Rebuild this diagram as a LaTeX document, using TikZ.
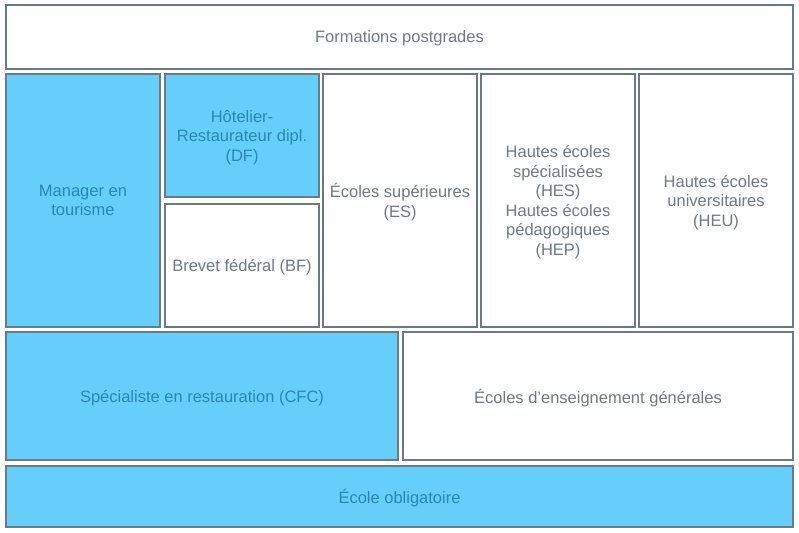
\documentclass[tikz,border=0pt]{standalone}
\usepackage{fontspec}
\setmainfont{Liberation Sans}
\definecolor{boxline}{RGB}{108,122,130}
\definecolor{boxtext}{RGB}{112,122,130}
\definecolor{skyfill}{RGB}{102,206,250}
\definecolor{skytext}{RGB}{42,136,176}

\begin{document}
\begin{tikzpicture}[x=1pt,y=-1pt,
  level/.style={draw=boxline,line width=1.4pt,fill=white,text=boxtext,
    align=center,inner sep=0pt,outer sep=0pt,text depth=0pt,
    font=\fontsize{16.5}{19.5}\selectfont},
  sky/.style={level,fill=skyfill,text=skytext}]
\useasboundingbox[fill=white] (0,0) rectangle (799,532);

\node[level,minimum width=787pt,minimum height=64pt] (post) at (399.5,37) {Formations postgrades};

\node[sky,minimum width=154pt,minimum height=253pt] (mgr) at (83,200.5) {Manager en\\tourisme};
\node[sky,minimum width=154pt,minimum height=123pt] (df) at (242,135.5) {Hôtelier-\\Restaurateur dipl.\\(DF)};
\node[level,minimum width=154pt,minimum height=123pt] (bf) at (242,265.5) {Brevet fédéral (BF)};
\node[level,minimum width=154pt,minimum height=253pt] (es) at (400,200.5) {Écoles supérieures\\(ES)};
\node[level,minimum width=154pt,minimum height=253pt] (hes) at (558,200.5)
{Hautes écoles\\spécialisées\\(HES)\\Hautes écoles\\pédagogiques\\(HEP)};
\node[level,minimum width=154pt,minimum height=253pt] (heu) at (716,200.5) {Hautes écoles\\universitaires\\(HEU)};

\node[sky,minimum width=392pt,minimum height=128pt] (cfc) at (202,396) {Spécialiste en restauration (CFC)};
\node[level,minimum width=390pt,minimum height=128pt] (ege) at (598,396) {Écoles d’enseignement générales};

\node[sky,minimum width=787pt,minimum height=61pt] (obl) at (399.5,496.5) {École obligatoire};
\end{tikzpicture}
\end{document}
